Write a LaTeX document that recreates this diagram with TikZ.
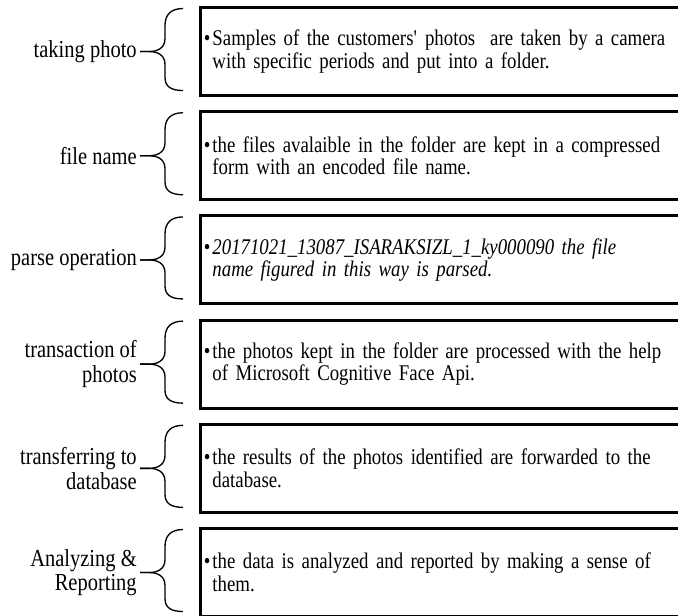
\documentclass[tikz,border=0pt]{standalone}
\usepackage{fontspec}
\setmainfont{Liberation Serif}[FakeStretch=0.84]
\usetikzlibrary{calc}

\tikzset{
  stepbox/.style={draw, line width=2.3pt, anchor=north west, minimum height=66pt,
    text width=370pt, align=left, inner xsep=2.5pt, font=\fontsize{16.8}{17}\selectfont},
  steplabel/.style={anchor=east, inner sep=0.75pt, align=right, font=\fontsize{18.3}{18.5}\selectfont},
  bracestyle/.style={line width=1pt},
}

% curly brace on the left side of a box
\newcommand{\boxbrace}[1]{%
  \draw[bracestyle] ($(#1.west)+(-16,-43)$) .. controls ($(#1.west)+(-28,-43)$) and ($(#1.west)+(-34,-37)$) .. ($(#1.west)+(-34,-26)$)
    -- ($(#1.west)+(-34,-13)$) .. controls ($(#1.west)+(-34,-3)$) and ($(#1.west)+(-42,0)$) .. ($(#1.west)+(-50,0)$) -- ($(#1.west)+(-59,0)$);
  \draw[bracestyle] ($(#1.west)+(-59,0)$) -- ($(#1.west)+(-50,0)$) .. controls ($(#1.west)+(-42,0)$) and ($(#1.west)+(-34,3)$) .. ($(#1.west)+(-34,13)$)
    -- ($(#1.west)+(-34,26)$) .. controls ($(#1.west)+(-34,35)$) and ($(#1.west)+(-28,39)$) .. ($(#1.west)+(-16,39)$);
}
\newcommand{\bul}{{\upshape\textbullet}\hspace{1.5pt}}
\newcommand{\hang}{\phantom{\textbullet}\hspace{1.5pt}}

\begin{document}
\begin{tikzpicture}[x=0.75pt,y=0.75pt,yscale=-1,xscale=1]
        \useasboundingbox (0,0) rectangle (678,615);

        \node[stepbox] (b1) at (199,6) {\bul Samples of the customers\textquotesingle\ photos\ \ are taken by a camera\\ \hang with specific periods and put into a folder.};
        \node[stepbox] (b2) at (199,110.2) {\bul the files avalaible in the folder are kept in a compressed\\ \hang form with an encoded file name.};
        \node[stepbox] (b3) at (199,214.4) {\bul\itshape 20171021\_13087\_ISARAKSIZL\_1\_ky000090 the file\\ \hang name figured in this way is parsed.};
        \node[stepbox] (b4) at (199,318.6) {\bul the photos kept in the folder are processed with the help\\ \hang of Microsoft Cognitive Face Api.};
        \node[stepbox] (b5) at (199,422.8) {\bul the results of the photos identified are forwarded to the\\ \hang database.};
        \node[stepbox] (b6) at (199,527) {\bul the data is analyzed and reported by making a sense of\\ \hang them.};

        \node[steplabel] (l1) at ($(b1.west)+(-61,0)$) {taking photo};
        \node[steplabel] (l2) at ($(b2.west)+(-61,0)$) {file name};
        \node[steplabel] (l3) at ($(b3.west)+(-61,0)$) {parse operation};
        \node[steplabel] (l4) at ($(b4.west)+(-61,0)$) {transaction of\\photos};
        \node[steplabel] (l5) at ($(b5.west)+(-61,0)$) {transferring to\\database};
        \node[steplabel] (l6) at ($(b6.west)+(-61,0)$) {Analyzing \&\\Reporting};

        \boxbrace{b1}
        \boxbrace{b2}
        \boxbrace{b3}
        \boxbrace{b4}
        \boxbrace{b5}
        \boxbrace{b6}
\end{tikzpicture}
\end{document}
